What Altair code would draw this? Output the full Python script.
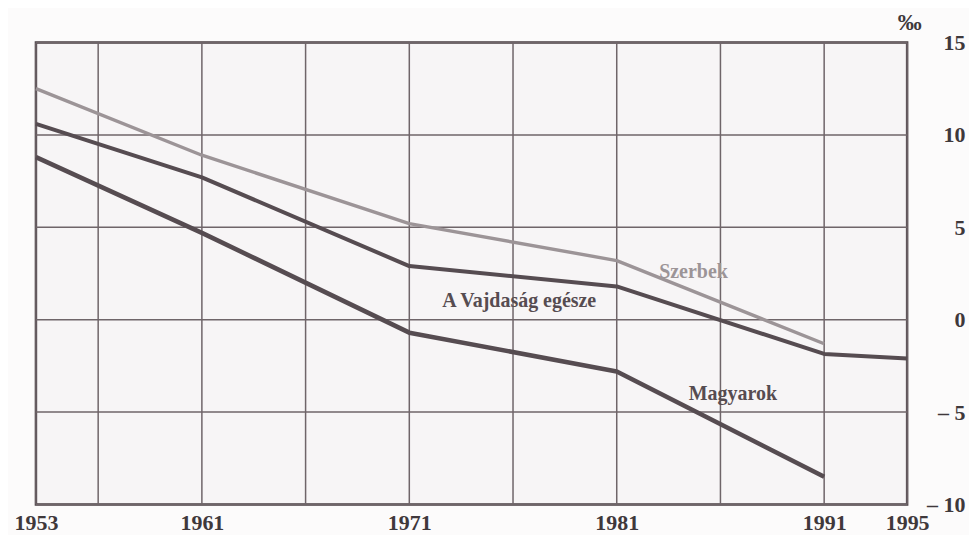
import altair as alt
import pandas as pd

# ---- data ----
years_vajdasag = [1953, 1961, 1971, 1981, 1991, 1995]
vajdasag = [10.6, 7.7, 2.9, 1.8, -1.85, -2.1]

years_szerbek = [1953, 1961, 1971, 1981, 1991]
szerbek = [12.5, 8.9, 5.2, 3.2, -1.3]

years_magyarok = [1953, 1961, 1971, 1981, 1991]
magyarok = [8.8, 4.7, -0.7, -2.8, -8.5]

label_years = [1953, 1961, 1971, 1981, 1991, 1995]
grid_years = [1953, 1956, 1961, 1966, 1971, 1976, 1981, 1986, 1991, 1995]
y_ticks = [-10, -5, 0, 5, 10, 15]

series_names = ["Szerbek", "A Vajdaság egésze", "Magyarok"]
ann_text = ["Szerbek", "A Vajdaság egésze", "Magyarok"]
ann_year = [1984.7, 1976.3, 1986.6]
ann_value = [2.6, 1.0, -4.0]

# ---- tables ----
rows = []
for y, v in zip(years_szerbek, szerbek):
    rows.append({"year": y, "value": v, "series": "Szerbek", "order": 0})
for y, v in zip(years_vajdasag, vajdasag):
    rows.append({"year": y, "value": v, "series": "A Vajdaság egésze", "order": 1})
for y, v in zip(years_magyarok, magyarok):
    rows.append({"year": y, "value": v, "series": "Magyarok", "order": 2})
lines_df = pd.DataFrame(rows)

grid_x_df = pd.DataFrame({"year": grid_years})
grid_y_df = pd.DataFrame({"value": y_ticks})
ann_df = pd.DataFrame({"text": ann_text, "year": ann_year, "value": ann_value,
                       "series": series_names})

FONT = "Liberation Serif"
DARK = "#564c51"
GRAY = "#9c9497"
GRID = "#6f6569"

xscale = alt.Scale(domain=[1953, 1995], nice=False, zero=False)
yscale = alt.Scale(domain=[-10, 15], nice=False, zero=False)

x_axis = alt.Axis(values=label_years, format="d", title=None, grid=False,
                  ticks=False, tickSize=0, domain=False, labelFont=FONT,
                  labelFontWeight="bold", labelFontSize=22, labelColor="#3f383b",
                  labelPadding=8, labelFlush=False)
y_axis = alt.Axis(orient="right", values=y_ticks, title="‰", grid=False,
                  ticks=False, tickSize=0, domain=False, labelFont=FONT,
                  labelFontWeight="bold", labelFontSize=22, labelColor="#3f383b",
                  labelAlign="right", labelBaseline="middle", labelPadding=58,
                  labelFlush=False,
                  labelExpr="datum.value < 0 ? '– ' + abs(datum.value) : datum.label",
                  titleAngle=0, titleX=2, titleY=-13, titleAlign="center",
                  titleBaseline="alphabetic", titleFont=FONT, titleFontSize=24,
                  titleFontWeight="bold", titleColor="#3f383b")

vgrid = alt.Chart(grid_x_df).mark_rule(color=GRID, strokeWidth=1.5).encode(
    x=alt.X("year:Q", scale=xscale, axis=x_axis)
)
hgrid = alt.Chart(grid_y_df).mark_rule(color=GRID, strokeWidth=1.5).encode(
    y=alt.Y("value:Q", scale=yscale, axis=y_axis)
)

color_scale = alt.Scale(domain=series_names, range=[GRAY, DARK, DARK])
width_scale = alt.Scale(domain=series_names, range=[3.4, 4.6, 4.6])

lines = alt.Chart(lines_df).mark_line(strokeJoin="round", strokeCap="butt").encode(
    x=alt.X("year:Q", scale=xscale),
    y=alt.Y("value:Q", scale=yscale),
    color=alt.Color("series:N", scale=color_scale, legend=None),
    strokeWidth=alt.StrokeWidth("series:N", scale=width_scale, legend=None),
    detail="series:N",
    order="order:Q",
)

ann = alt.Chart(ann_df).mark_text(font=FONT, fontWeight="bold", fontSize=20,
                                  align="center", baseline="middle").encode(
    x=alt.X("year:Q", scale=xscale),
    y=alt.Y("value:Q", scale=yscale),
    text="text:N",
    color=alt.Color("series:N", scale=alt.Scale(domain=series_names,
                                                range=["#8e8689", "#40383c", "#40383c"]),
                    legend=None),
)

chart = alt.layer(vgrid, hgrid, lines, ann).properties(
    width=873,
    height=463,
    autosize=alt.AutoSizeParams(type="none"),
    padding={"left": 28, "top": 34, "right": 62, "bottom": 30},
    background="#fcfbfb",
).configure_view(
    fill="#f7f5f6",
    stroke="#4a4146",
    strokeWidth=2.5,
)

chart.save("out.html", embed_options={"renderer": "svg", "actions": False})
